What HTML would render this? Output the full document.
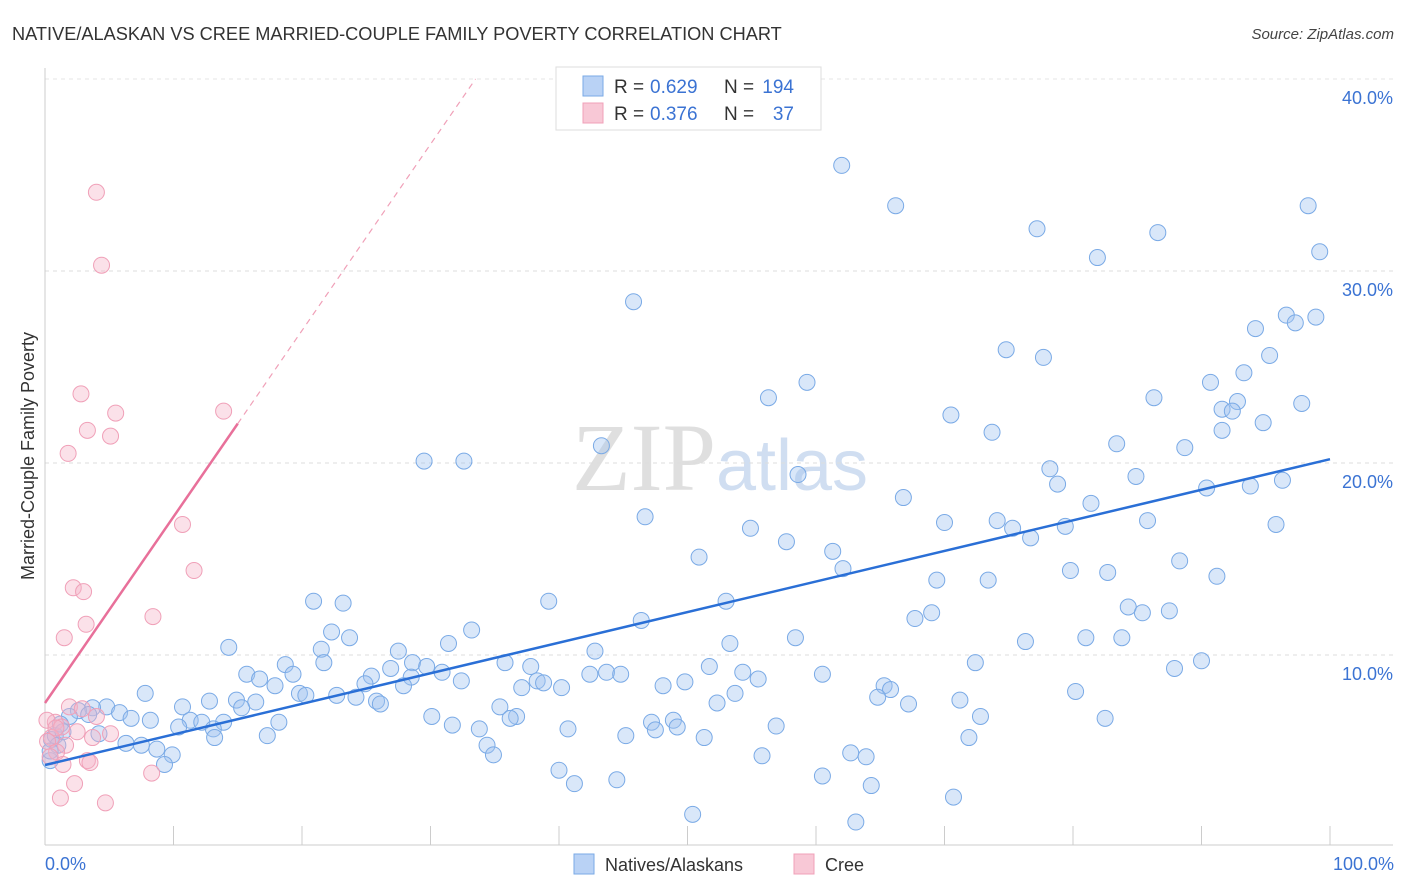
<!DOCTYPE html>
<html><head><meta charset="utf-8">
<style>
body{margin:0;background:#fff;font-family:"Liberation Sans",sans-serif;}
svg{display:block}
</style></head>
<body>
<svg id="chart" width="1406" height="892" xmlns="http://www.w3.org/2000/svg">
<text x="12" y="40" font-size="18.2" fill="#333" font-family="Liberation Sans">NATIVE/ALASKAN VS CREE MARRIED-COUPLE FAMILY POVERTY CORRELATION CHART</text>
<text x="1394" y="39" font-size="15" fill="#444" font-style="italic" text-anchor="end">Source: ZipAtlas.com</text>
<text x="720" y="490" font-size="96" text-anchor="middle" font-family="Liberation Serif" fill="#d8d8d8" opacity="0.8">ZIP<tspan fill="#c5d6ee" font-family="Liberation Sans" font-size="72">atlas</tspan></text>
<g id="grid"></g>
<g id="axes"></g>
<g id="points"></g>
<g id="lines"></g>
<text transform="translate(34,456) rotate(-90)" font-size="18" fill="#333" text-anchor="middle">Married-Couple Family Poverty</text>
<text x="45" y="870" font-size="18" fill="#3b73d3">0.0%</text>
<text x="1394" y="870" font-size="18" fill="#3b73d3" text-anchor="end">100.0%</text>
<g>
<rect x="556" y="67" width="265" height="63" fill="#fff" stroke="#ddd"/>
<rect x="583" y="76" width="20" height="20" fill="#b9d2f5" stroke="#7aaae6"/>
<rect x="583" y="103" width="20" height="20" fill="#f8c8d6" stroke="#f0a0b8"/>
<text x="614" y="93" font-size="19" fill="#333">R =</text>
<text x="650" y="93" font-size="19" fill="#3b73d3">0.629</text>
<text x="724" y="93" font-size="19" fill="#333">N =</text>
<text x="794" y="93" font-size="19" fill="#3b73d3" text-anchor="end">194</text>
<text x="614" y="120" font-size="19" fill="#333">R =</text>
<text x="650" y="120" font-size="19" fill="#3b73d3">0.376</text>
<text x="724" y="120" font-size="19" fill="#333">N =</text>
<text x="794" y="120" font-size="19" fill="#3b73d3" text-anchor="end">37</text>
</g>
<g>
<rect x="574" y="854" width="20" height="20" fill="#b9d2f5" stroke="#7aaae6"/>
<text x="605" y="871" font-size="18" fill="#333">Natives/Alaskans</text>
<rect x="794" y="854" width="20" height="20" fill="#f8c8d6" stroke="#f0a0b8"/>
<text x="825" y="871" font-size="18" fill="#333">Cree</text>
</g>
</svg>
<script>
const blueX=[62.0,66.2,77.2,86.6,98.3,81.9,99.2,45.8,96.6,97.3,98.9,94.2,74.8,77.7,95.3,93.3,59.3,90.7,56.3,86.3,92.8,97.8,91.6,92.4,70.5,94.8,73.7,91.6,83.4,43.3,88.7,29.5,32.6,78.2,58.6,84.9,78.8,96.3,90.4,93.8,66.8,81.4,46.7,70.0,74.1,85.8,95.8,54.9,75.3,79.4,76.7,57.7,61.3,50.9,88.3,62.1,79.8,82.7,91.2,69.4,73.4,39.2,53.0,20.9,23.2,84.3,85.4,87.5,69.0,67.7,46.4,33.2,22.3,23.7,58.4,81.0,83.8,76.3,53.3,31.4,14.3,21.5,27.5,42.8,18.7,72.4,90.0,87.9,21.7,28.6,29.7,35.8,37.8,51.7,26.9,30.9,15.7,19.3,54.3,60.5,42.4,43.7,44.8,25.4,16.7,28.5,55.5,32.4,38.3,38.8,49.8,24.9,27.9,40.2,37.1,48.1,65.3,17.9,65.8,80.2,53.7,19.8,20.3,7.8,22.7,24.2,64.8,71.2,14.9,16.4,25.8,12.8,26.1,52.3,10.7,15.3,67.2,4.8,35.4,3.7,5.8,2.6,3.4,1.9,30.1,36.7,36.2,72.8,82.5,8.2,6.7,11.3,12.2,13.9,18.2,47.2,48.9,10.4,31.7,47.5,49.2,13.1,33.8,40.7,56.9,4.2,17.3,13.2,45.2,51.3,71.9,6.3,7.5,34.4,8.7,34.9,9.9,55.8,62.7,63.9,9.3,40.0,60.5,44.5,41.2,64.3,70.7,50.4,63.1,0.4,0.5,0.8,1.0,1.2,0.4,1.4];
const blueY=[35.5,33.4,32.2,32.0,33.4,30.7,31.0,28.4,27.7,27.3,27.6,27.0,25.9,25.5,25.6,24.7,24.2,24.2,23.4,23.4,23.2,23.1,22.8,22.7,22.5,22.1,21.6,21.7,21.0,20.9,20.8,20.1,20.1,19.7,19.4,19.3,18.9,19.1,18.7,18.8,18.2,17.9,17.2,16.9,17.0,17.0,16.8,16.6,16.6,16.7,16.1,15.9,15.4,15.1,14.9,14.5,14.4,14.3,14.1,13.9,13.9,12.8,12.8,12.8,12.7,12.5,12.2,12.3,12.2,11.9,11.8,11.3,11.2,10.9,10.9,10.9,10.9,10.7,10.6,10.6,10.4,10.3,10.2,10.2,9.5,9.6,9.7,9.3,9.6,9.6,9.4,9.6,9.4,9.4,9.3,9.1,9.0,9.0,9.1,9.0,9.0,9.1,9.0,8.9,8.75,8.85,8.75,8.65,8.65,8.55,8.6,8.5,8.4,8.3,8.3,8.4,8.4,8.4,8.2,8.1,8.0,8.0,7.9,8.0,7.9,7.8,7.8,7.65,7.65,7.55,7.6,7.6,7.45,7.5,7.3,7.25,7.45,7.3,7.3,7.25,7.0,7.1,6.9,6.8,6.8,6.8,6.7,6.8,6.7,6.6,6.7,6.6,6.5,6.5,6.5,6.5,6.6,6.25,6.35,6.1,6.25,6.15,6.15,6.15,6.3,5.9,5.8,5.7,5.8,5.7,5.7,5.4,5.3,5.3,5.1,4.8,4.8,4.75,4.9,4.7,4.3,4.0,3.7,3.5,3.3,3.2,2.6,1.7,1.3,4.5,5.6,5.8,5.3,6.4,5.0,6.0];
const pinkX=[4.0,4.4,2.8,5.5,13.9,3.3,5.1,1.8,10.7,11.6,2.2,3.0,8.4,3.2,1.5,1.9,2.9,4.0,0.8,1.3,2.5,0.5,5.1,3.7,0.2,1.6,0.9,0.4,1.4,3.3,3.5,8.3,2.3,1.2,4.7,0.15,0.85];
const pinkY=[34.1,30.3,23.6,22.6,22.7,21.7,21.4,20.5,16.8,14.4,13.5,13.3,12.0,11.6,10.9,7.3,7.2,6.8,6.5,6.25,6.0,5.7,5.9,5.7,5.5,5.3,4.95,4.7,4.3,4.5,4.4,3.85,3.3,2.55,2.3,6.6,6.2];
const yTicks=[10,20,30,40];
const yTickLabels=["10.0%","20.0%","30.0%","40.0%"];
const xTicks=[0,10,20,30,40,50,60,70,80,90,100];
const blueFit=[4.27,20.2];
const pinkFit=[7.5,0.97];

const NS="http://www.w3.org/2000/svg";
const sx=v=>45+v*12.85, sy=v=>847-v*19.2;
function mk(tag,attrs,parent){const e=document.createElementNS(NS,tag);for(const k in attrs)e.setAttribute(k,attrs[k]);parent.appendChild(e);return e;}
const gridG=document.getElementById('grid'),axesG=document.getElementById('axes'),ptsG=document.getElementById('points'),linesG=document.getElementById('lines');
yTicks.forEach((t,i)=>{
 const g=mk('line',{x1:45,x2:1393,y1:sy(t),y2:sy(t),stroke:'#ddd','stroke-dasharray':'4,4'},gridG);
 
 
 const tx=mk('text',{x:1393,y:sy(t)+25,'font-size':18,fill:'#3b73d3','text-anchor':'end'},gridG);
 tx.textContent=yTickLabels[i];
 
 
});
const topGrid=mk('line',{x1:45,x2:1393,y1:79,y2:79,stroke:'#e4e4e4','stroke-dasharray':'4,4'},gridG);


const xa=mk('line',{x1:45,x2:1393,y1:845,y2:845,stroke:'#ccc'},axesG);


const ya=mk('line',{x1:45,x2:45,y1:68,y2:845,stroke:'#ccc'},axesG);


xTicks.forEach(t=>{
 const l=mk('line',{x1:sx(t),x2:sx(t),y1:826,y2:845,stroke:'#ccc'},axesG);
 
 
});
blueX.forEach((x,i)=>{
 const c=mk('circle',{cx:sx(x),cy:sy(blueY[i]),r:8,fill:'rgba(160,196,240,0.4)',stroke:'#7aaae6','stroke-width':1},ptsG);
 
 
});
pinkX.forEach((x,i)=>{
 const c=mk('circle',{cx:sx(x),cy:sy(pinkY[i]),r:8,fill:'rgba(244,180,200,0.4)',stroke:'#f0a0b8','stroke-width':1},ptsG);
 
 
});
const bl=mk('line',{x1:sx(0),y1:sy(blueFit[0]),x2:sx(100),y2:sy(blueFit[1]),stroke:'#2a6fd6','stroke-width':2.5},linesG);


const pe=15, pd=(40-pinkFit[0])/pinkFit[1];
const pl=mk('line',{x1:sx(0),y1:sy(pinkFit[0]),x2:sx(pe),y2:sy(pinkFit[0]+pinkFit[1]*pe),stroke:'#e8709a','stroke-width':2.5},linesG);


const pdl=mk('line',{x1:sx(pe),y1:sy(pinkFit[0]+pinkFit[1]*pe),x2:sx(pd),y2:sy(40),stroke:'#f0a0b8','stroke-width':1.2,'stroke-dasharray':'6,5'},linesG);


</script>
</body></html>
